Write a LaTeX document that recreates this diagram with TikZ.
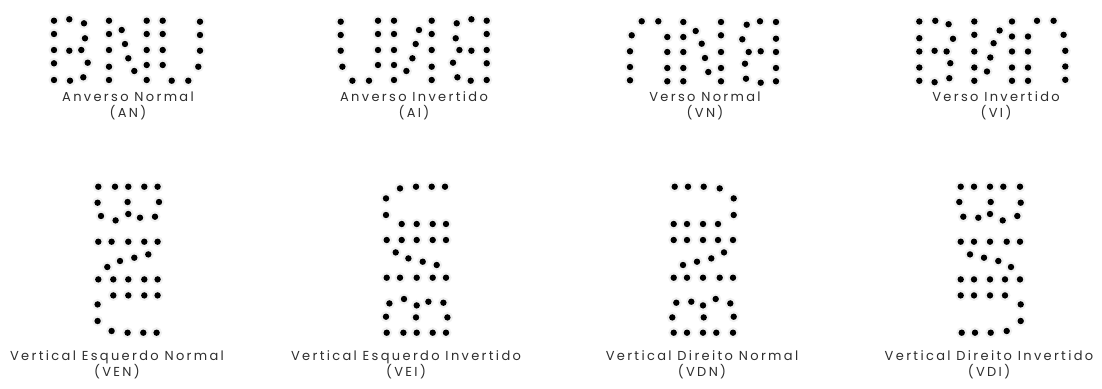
\documentclass[tikz,border=0pt]{standalone}
\usepackage{fontspec}
\newfontfamily\labfont{Poppins}[LetterSpace=18]
\definecolor{labgray}{HTML}{2E2E2E}
\begin{document}
\begin{tikzpicture}[x=1pt,y=-1pt]
\tikzset{
  dotfill/.style={fill=black},
  halo/.style={fill=black!6},
  lab/.style={font=\labfont\fontsize{13}{16.5}\selectfont, text=labgray, align=center, inner sep=0pt}
}
\fill[white] (0,0) rectangle (1102,388);
\useasboundingbox (0,0) rectangle (1102,388);
\def\ANdots{54/20.7, 69.3/19.3, 84/23.3, 54/34, 85/38.3, 54/50, 69.3/50.7, 81.3/50, 54/63.3, 87.7/62.7, 54/80, 70/80.7, 83.3/77.3, 109/20.7, 109/34, 109/50, 109/66.7, 109/80, 121.7/30, 125/44, 128.3/58.3, 134.3/71, 146.7/20.7, 146.7/34, 146.7/50, 146.7/65, 146.7/80, 162.7/20.7, 162.7/34, 162.7/50, 162.7/65, 171.7/80.7, 188.3/80.7, 200/21.7, 200/35, 200/50.7, 198.3/66.7}
% halos
\foreach \x/\y in \ANdots {
  \fill[halo] (\x,\y) circle (5.5pt);
  \fill[halo] ({540.7-\x},\y) circle (5.5pt);
  \fill[halo] ({830-\x},{102-\y}) circle (5.5pt);
  \fill[halo] ({\x+865.3},{101.5-\y}) circle (5.5pt);
  \fill[halo] ({178.3-\y},{132.7+\x}) circle (5.5pt);
  \fill[halo] ({466.7-\y},{386.7-\x}) circle (5.5pt);
  \fill[halo] ({653+\y},{386.7-\x}) circle (5.5pt);
  \fill[halo] ({940+\y},{132.7+\x}) circle (5.5pt);
}
% dots
\foreach \x/\y in \ANdots {
  \fill[dotfill] (\x,\y) circle (3.2pt);
  \fill[dotfill] ({540.7-\x},\y) circle (3.2pt);
  \fill[dotfill] ({830-\x},{102-\y}) circle (3.2pt);
  \fill[dotfill] ({\x+865.3},{101.5-\y}) circle (3.2pt);
  \fill[dotfill] ({178.3-\y},{132.7+\x}) circle (3.2pt);
  \fill[dotfill] ({466.7-\y},{386.7-\x}) circle (3.2pt);
  \fill[dotfill] ({653+\y},{386.7-\x}) circle (3.2pt);
  \fill[dotfill] ({940+\y},{132.7+\x}) circle (3.2pt);
}
% labels
\node[lab] (an)  at (128,106) {Anverso Normal\\(AN)};
\node[lab] (ai)  at (414,106) {Anverso Invertido\\(AI)};
\node[lab] (vn)  at (705,106) {Verso Normal\\(VN)};
\node[lab] (vi)  at (996,106) {Verso Invertido\\(VI)};
\node[lab] (ven) at (117,365) {Vertical Esquerdo Normal\\(VEN)};
\node[lab] (vei) at (406,365) {Vertical Esquerdo Invertido\\(VEI)};
\node[lab] (vdn) at (702,365) {Vertical Direito Normal\\(VDN)};
\node[lab] (vdi) at (989,365) {Vertical Direito Invertido\\(VDI)};
\end{tikzpicture}
\end{document}
